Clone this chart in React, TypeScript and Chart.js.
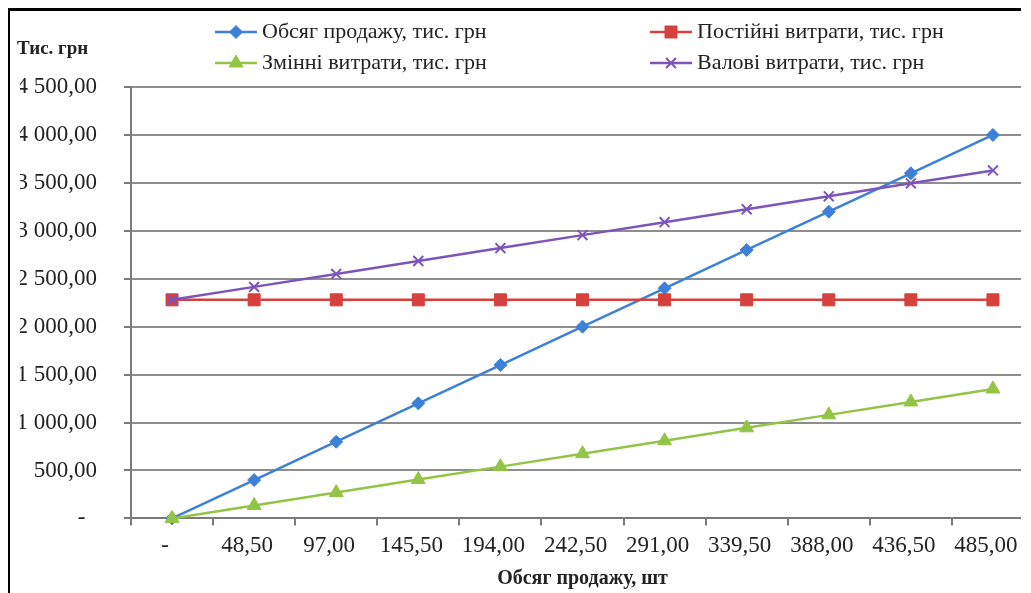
import React, { useEffect, useRef } from 'react';
import { Chart, registerables } from 'chart.js';
import { drawPoint } from 'chart.js/helpers';

Chart.register(...registerables);

const xLabels = ['-', '48,50', '97,00', '145,50', '194,00', '242,50', '291,00', '339,50', '388,00', '436,50', '485,00'];
const salesValues = [0, 400, 800, 1200, 1600, 2000, 2400, 2800, 3200, 3600, 4000];
const fixedCosts = [2280, 2280, 2280, 2280, 2280, 2280, 2280, 2280, 2280, 2280, 2280];
const variableCosts = [0, 135, 270, 405, 540, 675, 810, 945, 1080, 1215, 1350];
const grossCosts = [2280, 2415, 2550, 2685, 2820, 2955, 3090, 3225, 3360, 3495, 3630];
const seriesNames = [
  'Обсяг продажу, тис. грн',
  'Постійні витрати, тис. грн',
  'Змінні витрати, тис. грн',
  'Валові витрати, тис. грн',
];
const yMin = 0;
const yMax = 4500;
const yStep = 500;
const yAxisTitle = 'Тис. грн';
const xAxisTitle = 'Обсяг продажу, шт';

const FONT = '"Liberation Serif", "Times New Roman", serif';
const TEXT = '#222222';
const AXIS = '#7a7a7a';
const GRID = '#8e8e8e';

const fmtY = (v: number) => {
  if (v === 0) return '-\u00A0\u00A0';
  const [i, d] = v.toFixed(2).split('.');
  return i.replace(/\B(?=(\d{3})+(?!\d))/g, ' ') + ',' + d;
};

const legendPlugin = {
  id: 'excelLegend',
  afterDraw(chart: any) {
    const ctx = chart.ctx as CanvasRenderingContext2D;
    ctx.save();
    ctx.textBaseline = 'middle';
    ctx.textAlign = 'left';
    ctx.fillStyle = TEXT;
    ctx.font = `bold 19px ${FONT}`;
    ctx.fillText(yAxisTitle, 7, 38);
    const cols = [205, 640];
    const rows = [21, 52];
    chart.data.datasets.forEach((ds: any, i: number) => {
      const x0 = cols[i % 2];
      const y = rows[Math.floor(i / 2)];
      ctx.strokeStyle = ds.borderColor;
      ctx.lineWidth = 2.5;
      ctx.beginPath();
      ctx.moveTo(x0, y);
      ctx.lineTo(x0 + 42, y);
      ctx.stroke();
      ctx.fillStyle = ds.pointBackgroundColor;
      ctx.strokeStyle = ds.pointBorderColor;
      ctx.lineWidth = ds.pointBorderWidth;
      drawPoint(ctx, { pointStyle: ds.pointStyle, radius: ds.pointRadius, rotation: 0, borderWidth: ds.pointBorderWidth }, x0 + 21, y);
      ctx.fillStyle = TEXT;
      ctx.font = `22px ${FONT}`;
      ctx.fillText(ds.label, x0 + 47, y);
    });
    ctx.restore();
  },
};

export default function App() {
  const ref = useRef<HTMLCanvasElement | null>(null);
  useEffect(() => {
    document.documentElement.style.overflow = 'hidden';
    document.body.style.overflow = 'hidden';
    const colors = ['#3d80d8', '#d6403d', '#93c445', '#7c54ba'];
    const styles = ['rectRot', 'rect', 'triangle', 'crossRot'];
    const radii = [6.5, 8.5, 8, 7];
    const values = [salesValues, fixedCosts, variableCosts, grossCosts];
    const chart = new Chart(ref.current as HTMLCanvasElement, {
      type: 'line',
      data: {
        labels: xLabels,
        datasets: values.map((v, i) => ({
          label: seriesNames[i],
          data: v,
          borderColor: colors[i],
          backgroundColor: colors[i],
          borderWidth: 2.5,
          pointStyle: styles[i],
          pointRadius: radii[i],
          pointBackgroundColor: colors[i],
          pointBorderColor: colors[i],
          pointBorderWidth: i === 3 ? 2 : 1,
          tension: 0,
          clip: false,
          order: 4 - i,
        })) as any,
      },
      options: {
        animation: false,
        responsive: true,
        maintainAspectRatio: false,
        layout: { padding: { top: 76, left: 10, right: 12, bottom: 0 } },
        plugins: { legend: { display: false }, tooltip: { enabled: false }, title: { display: false } },
        scales: {
          x: {
            type: 'category',
            offset: true,
            grid: { display: true, drawOnChartArea: false, drawTicks: true, tickLength: 7, offset: true, color: AXIS, lineWidth: 2 },
            border: { display: true, color: AXIS, width: 2 },
            ticks: { font: { family: FONT, size: 23 }, color: TEXT, padding: 7, labelOffset: -7, maxRotation: 0, autoSkip: false },
            title: { display: true, text: xAxisTitle, font: { family: FONT, size: 20, weight: 'bold' }, color: TEXT, padding: { top: 0, bottom: 4 } },
          },
          y: {
            min: yMin,
            max: yMax,
            afterFit: (s: any) => { s.width = 111; },
            ticks: { stepSize: yStep, callback: (v: any) => fmtY(Number(v)), font: { family: FONT, size: 23 }, color: TEXT, padding: 27 },
            grid: { color: GRID, lineWidth: 2, tickLength: 7, drawTicks: true, tickColor: AXIS },
            border: { display: true, color: AXIS, width: 2 },
          },
        },
      },
      plugins: [legendPlugin],
    });
    return () => chart.destroy();
  }, []);
  return (
    <div style={{ width: 1013, height: 585, overflow: 'hidden', position: 'relative', background: '#fff' }}>
      <div style={{ position: 'absolute', left: 0, top: 0, width: 1050, height: 600, borderLeft: '2px solid #000', borderTop: '3px solid #000', boxSizing: 'border-box' }}>
        <div style={{ position: 'absolute', left: 0, top: 0, width: 1036, height: 584 }}>
          <canvas ref={ref} />
        </div>
      </div>
    </div>
  );
}
